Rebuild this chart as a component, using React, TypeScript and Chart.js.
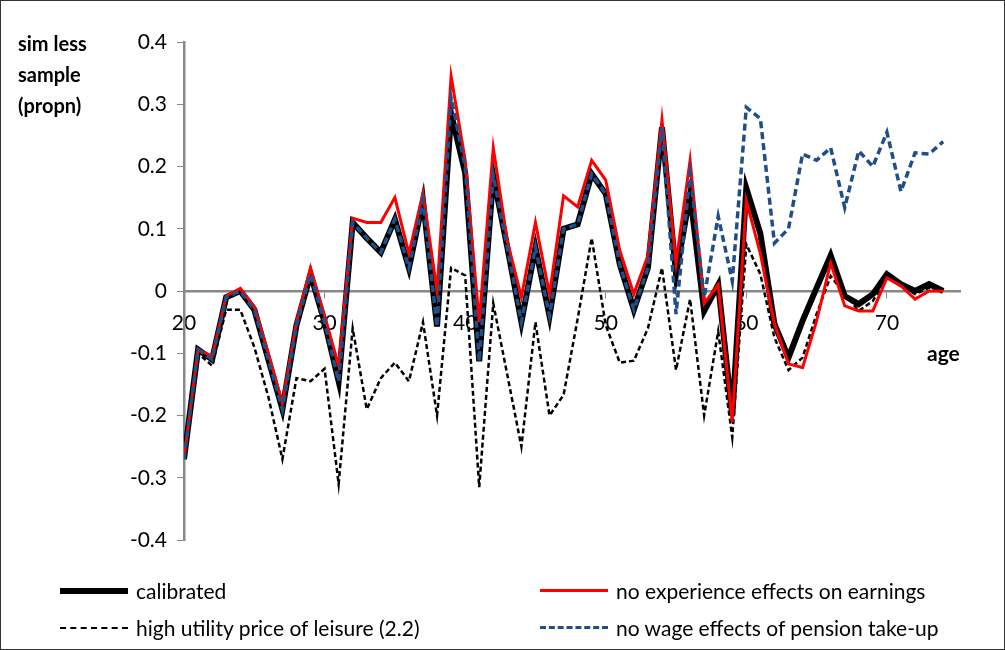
import React, { useRef, useEffect } from 'react';
import { Chart, registerables } from 'chart.js';

Chart.register(...registerables);

const ages = Array.from({ length: 55 }, (_, i) => 20 + i);

const calibrated = [
  -0.27, -0.094, -0.11, -0.01, 0, -0.03, -0.11, -0.19, -0.055, 0.027,
  -0.05, -0.145, 0.11, 0.085, 0.062, 0.115, 0.037, 0.145, -0.057, 0.285,
  0.19, -0.113, 0.185, 0.07, -0.05, 0.07, -0.04, 0.1, 0.107, 0.188,
  0.156, 0.043, -0.03, 0.037, 0.263, 0.027, 0.155, -0.032, 0.01, -0.2,
  0.165, 0.092, -0.053, -0.107, -0.048, 0.005, 0.057, -0.008, -0.021, -0.005,
  0.027, 0.011, 0, 0.011, 0,
];
const noExperience = [
  -0.27, -0.094, -0.105, -0.008, 0.004, -0.025, -0.1, -0.18, -0.05, 0.037,
  -0.04, -0.12, 0.117, 0.11, 0.11, 0.15, 0.06, 0.157, 0.0, 0.345,
  0.21, -0.05, 0.23, 0.08, -0.01, 0.11, -0.005, 0.153, 0.135, 0.21,
  0.178, 0.065, -0.005, 0.057, 0.275, 0.045, 0.21, -0.02, 0.01, -0.21,
  0.145, 0.06, -0.053, -0.117, -0.123, -0.048, 0.045, -0.024, -0.032, -0.032,
  0.021, 0.008, -0.013, 0, 0,
];
const highLeisure = [
  -0.27, -0.1, -0.12, -0.03, -0.03, -0.09, -0.17, -0.27, -0.14, -0.145,
  -0.125, -0.31, -0.06, -0.19, -0.14, -0.115, -0.145, -0.05, -0.2, 0.037,
  0.025, -0.315, -0.02, -0.135, -0.25, -0.05, -0.2, -0.167, -0.045, 0.085,
  -0.055, -0.115, -0.112, -0.06, 0.037, -0.127, -0.013, -0.2, -0.065, -0.235,
  0.075, 0.027, -0.075, -0.127, -0.107, -0.037, 0.024, -0.005, -0.032, -0.016,
  0.021, 0.011, -0.005, 0.005, 0,
];
const noWage = [
  -0.27, -0.094, -0.11, -0.01, 0, -0.03, -0.11, -0.19, -0.055, 0.027,
  -0.05, -0.145, 0.11, 0.085, 0.062, 0.115, 0.037, 0.145, -0.057, 0.31,
  0.2, -0.113, 0.185, 0.07, -0.05, 0.07, -0.04, 0.1, 0.107, 0.188,
  0.156, 0.043, -0.03, 0.037, 0.263, -0.037, 0.19, -0.01, 0.12, 0.016,
  0.295, 0.277, 0.077, 0.1, 0.22, 0.21, 0.23, 0.134, 0.225, 0.2,
  0.255, 0.16, 0.222, 0.22, 0.24,
];
const yTicks = [-0.4, -0.3, -0.2, -0.1, 0, 0.1, 0.2, 0.3, 0.4];

const BLUE = '#1f4e89';
const FONT = 'Lato, "Open Sans", sans-serif';

const pts = (vals: number[]) => ages.map((a, i) => ({ x: a, y: vals[i] }));

const LegendItem: React.FC<{ style: React.CSSProperties; label: string }> = ({ style, label }) => (
  <div style={{ display: 'flex', alignItems: 'center' }}>
    <div style={{ width: 68, marginRight: 8, ...style }} />
    <span>{label}</span>
  </div>
);

const App: React.FC = () => {
  const canvas = useRef<HTMLCanvasElement>(null);

  useEffect(() => {
    if (!canvas.current) return;
    const ctx = canvas.current.getContext('2d');
    if (!ctx) return;

    const chart = new Chart(ctx, {
      type: 'line',
      data: {
        datasets: [
          { label: 'no wage effects of pension take-up', data: pts(noWage), borderColor: BLUE, borderWidth: 3.5, borderDash: [7, 4], order: 0 },
          { label: 'no experience effects on earnings', data: pts(noExperience), borderColor: '#ff0000', borderWidth: 3, order: 1 },
          { label: 'high utility price of leisure (2.2)', data: pts(highLeisure), borderColor: '#000', borderWidth: 2.5, borderDash: [5, 3], order: 2 },
          { label: 'calibrated', data: pts(calibrated), borderColor: '#000', borderWidth: 6, order: 3 },
        ],
      },
      options: {
        animation: false,
        responsive: false,
        elements: { point: { radius: 0 }, line: { tension: 0, borderJoinStyle: 'miter' } },
        layout: { padding: { left: 0, right: 45, top: 42, bottom: 110 } },
        plugins: { legend: { display: false }, tooltip: { enabled: false } },
        scales: {
          x: {
            type: 'linear',
            position: { y: 0 },
            min: 20,
            max: 75.2,
            grid: { display: true, drawOnChartArea: false, drawTicks: true, tickLength: 6, color: '#888' },
            border: { color: '#888', width: 2.5 },
            afterBuildTicks: (s: any) => { s.ticks = [20, 30, 40, 50, 60, 70].map((v) => ({ value: v })); },
            ticks: { color: '#000', font: { family: FONT, size: 21 }, padding: 14, maxRotation: 0 },
          },
          y: {
            min: -0.4,
            max: 0.4,
            afterFit: (s: any) => { s.width = 184; },
            afterBuildTicks: (s: any) => { s.ticks = yTicks.map((v) => ({ value: v })); },
            grid: { display: true, drawOnChartArea: false, tickLength: 7, color: '#888' },
            border: { color: '#888', width: 2.5 },
            ticks: {
              color: '#000',
              font: { family: FONT, size: 21 },
              padding: 10,
              callback: (v: any) => (Math.abs(v) < 1e-9 ? '0' : String(Math.round(v * 10) / 10)),
            },
          },
        },
      },
    });

    return () => chart.destroy();
  }, []);

  return (
    <div style={{ position: 'absolute', left: 0, top: 0, width: 1005, height: 650, background: '#fff', fontFamily: FONT, overflow: 'hidden' }}>
      <canvas ref={canvas} width={1005} height={650} style={{ position: 'absolute', left: 0, top: 0 }} />
      <div style={{ position: 'absolute', left: 0, top: 0, width: 1003, height: 648, border: '1px solid #333', pointerEvents: 'none' }} />
      <div style={{ position: 'absolute', left: 18, top: 28, fontWeight: 'bold', fontSize: 20, lineHeight: '31px', color: '#000' }}>
        sim less<br />sample<br />(propn)
      </div>
      <div style={{ position: 'absolute', left: 927, top: 340, fontWeight: 'bold', fontSize: 21, color: '#000' }}>age</div>
      <div style={{ position: 'absolute', left: 60, top: 578, fontSize: 21, color: '#000', display: 'grid', gridTemplateColumns: '480px 440px', rowGap: 12 }}>
        <LegendItem style={{ height: 6, background: '#000' }} label="calibrated" />
        <LegendItem style={{ height: 3, background: '#ff0000' }} label="no experience effects on earnings" />
        <LegendItem style={{ height: 0, borderTop: '2.5px dashed #000' }} label="high utility price of leisure (2.2)" />
        <LegendItem style={{ height: 0, borderTop: `3.5px dashed ${BLUE}` }} label="no wage effects of pension take-up" />
      </div>
    </div>
  );
};

export default App;
